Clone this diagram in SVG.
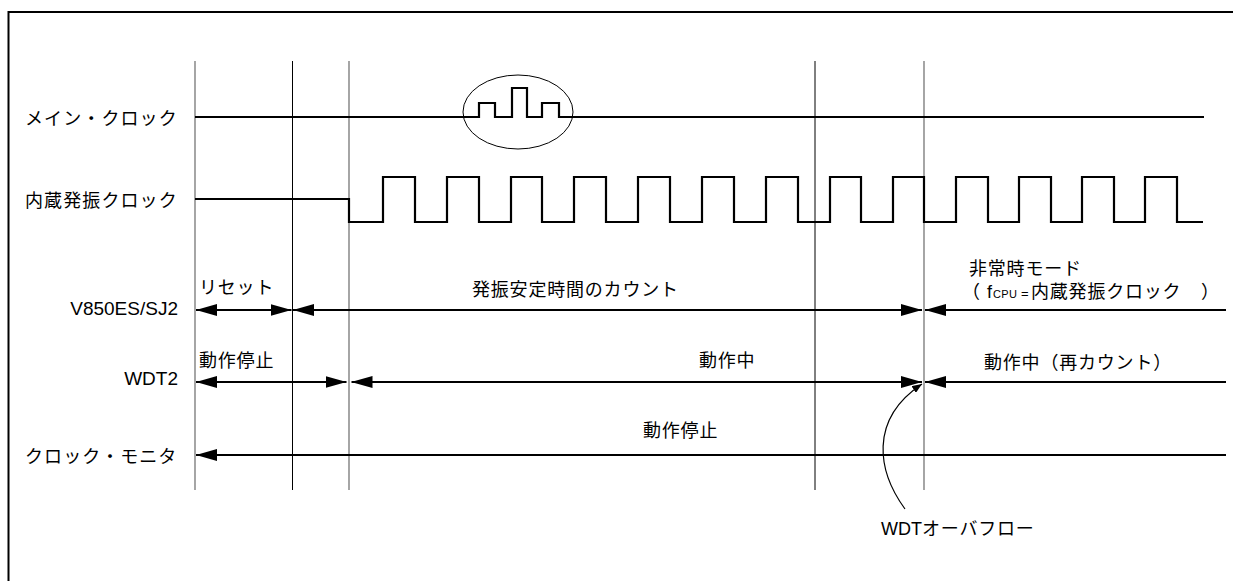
<svg xmlns="http://www.w3.org/2000/svg" width="1233" height="581" viewBox="0 0 1233 581">
<style>
.jp{font-family:"Noto Sans CJK JP",sans-serif;font-size:18px;letter-spacing:0.8px;fill:#000}
.lb{font-family:"Noto Sans CJK JP",sans-serif;font-size:18px;letter-spacing:1.1px;fill:#000}
.lt{font-family:"Liberation Sans",Arial,sans-serif;font-size:19px;fill:#000}
.sig{fill:none;stroke:#000;stroke-width:2.2}
.vg{stroke:#6a6a6a;stroke-width:1.2}
.vb{stroke:#000;stroke-width:1}
.ar{stroke:#000;stroke-width:2.2;fill:none}
</style>
<defs>
<marker id="ah" viewBox="0 0 21 12" refX="21" refY="6" markerWidth="21" markerHeight="12" markerUnits="userSpaceOnUse" orient="auto-start-reverse"><path d="M0,0 L21,6 L0,12 z" fill="#000"/></marker>
<marker id="sm" viewBox="0 0 10 8" refX="10" refY="4" markerWidth="10" markerHeight="8" markerUnits="userSpaceOnUse" orient="auto"><path d="M0,0 L10,4 L0,8 z" fill="#000"/></marker>
</defs>
<rect width="1233" height="581" fill="#fff"/>
<path d="M8.5,581 V12 H1233" fill="none" stroke="#000" stroke-width="2"/>

<g id="gridlines">
<line class="vg" x1="195" y1="61" x2="195" y2="490"/>
<line class="vb" x1="292.5" y1="61" x2="292.5" y2="490"/>
<line class="vg" x1="349" y1="61" x2="349" y2="490"/>
<line class="vb" x1="815" y1="61" x2="815" y2="490"/>
<line class="vg" x1="924" y1="61" x2="924" y2="490"/>
</g>

<g id="main-clock">
<text class="lb" x="25" y="125">メイン・クロック</text>
<path class="sig" d="M195,117 H479 V103 H495 V117 H512 V88 H527 V117 H542 V103 H559 V117 H1204"/>
<ellipse cx="518" cy="112" rx="55" ry="37" fill="none" stroke="#000" stroke-width="1"/>
</g>

<g id="internal-clock">
<text class="lb" x="25" y="207">内蔵発振クロック</text>
<path class="sig" d="M195,199 H349 V222 H383 V177 H415 V222 H447 V177 H479 V222 H511 V177 H542 V222 H574 V177 H606 V222 H638 V177 H670 V222 H702 V177 H734 V222 H766 V177 H798 V222 H830 V177 H861 V222 H893 V177 H924 V222 H956 V177 H988 V222 H1019 V177 H1051 V222 H1082 V177 H1114 V222 H1145 V177 H1177 V222 H1203"/>
</g>

<g id="v850">
<text class="lt" x="178" y="315" text-anchor="end">V850ES/SJ2</text>
<text class="jp" x="199" y="294">リセット</text>
<text class="jp" x="472" y="296">発振安定時間のカウント</text>
<text class="jp" x="969" y="275">非常時モード</text>
<text class="jp" y="298"><tspan x="962">（</tspan><tspan x="987" style="font-family:'Liberation Sans',sans-serif">f</tspan><tspan x="993" style="font-family:'Liberation Sans',sans-serif;font-size:11px;letter-spacing:0.3px">CPU</tspan><tspan x="1021" style="font-family:'Liberation Sans',sans-serif;font-size:13px">=</tspan><tspan x="1031">内蔵発振クロック</tspan><tspan x="1201">）</tspan></text>
</g>

<g id="wdt2">
<text class="lt" x="178" y="385" text-anchor="end">WDT2</text>
<text class="jp" x="199" y="367">動作停止</text>
<text class="jp" x="699" y="367">動作中</text>
<text class="jp" x="984" y="369">動作中（再カウント）</text>
</g>

<g id="clock-monitor">
<text class="lb" x="25" y="463">クロック・モニタ</text>
<text class="jp" x="643" y="437">動作停止</text>
</g>

<g id="wdt-overflow">
<text x="881" y="535"><tspan style="font-family:'Liberation Sans',sans-serif;font-size:18px">WDT</tspan><tspan class="jp">オーバフロー</tspan></text>
</g>

<g id="connectors">
<line class="ar" x1="196" y1="310" x2="291.5" y2="310" marker-start="url(#ah)" marker-end="url(#ah)"/>
<line class="ar" x1="293" y1="310" x2="922" y2="310" marker-start="url(#ah)" marker-end="url(#ah)"/>
<line class="ar" x1="925" y1="310" x2="1226" y2="310" marker-start="url(#ah)"/>
<line class="ar" x1="196" y1="382" x2="346.5" y2="382" marker-start="url(#ah)" marker-end="url(#ah)"/>
<line class="ar" x1="351.5" y1="382" x2="922" y2="382" marker-start="url(#ah)" marker-end="url(#ah)"/>
<line class="ar" x1="925" y1="382" x2="1226" y2="382" marker-start="url(#ah)"/>
<line class="ar" x1="196" y1="455" x2="1226" y2="455" marker-start="url(#ah)"/>
<path d="M905,509 C878,472 868,420 922,384" fill="none" stroke="#000" stroke-width="1.2" marker-end="url(#sm)"/>
</g>
</svg>
